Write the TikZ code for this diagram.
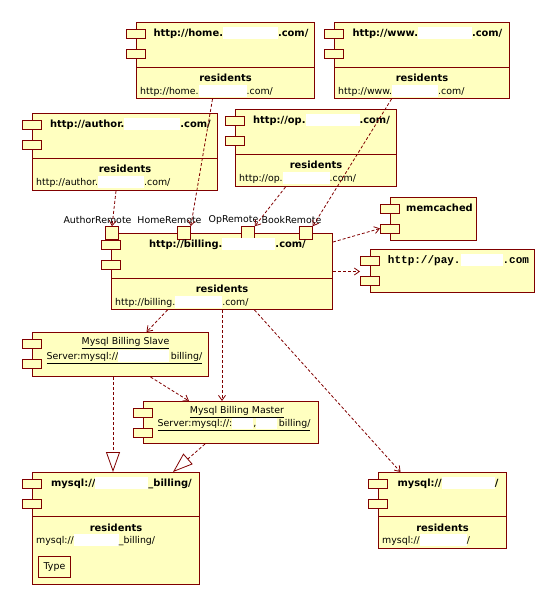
\documentclass[tikz,border=0pt]{standalone}
\usepackage{fontspec}
\setmainfont{DejaVu Sans}
\setmonofont{Liberation Mono}
\usepackage{xcolor}
\usetikzlibrary{arrows.meta, positioning, calc}

\definecolor{compfill}{RGB}{255,255,192}
\definecolor{compline}{RGB}{128,0,0}
\newcommand{\blank}[1]{{\color{white}\rule[-2.6pt]{#1}{11.4pt}}}

\begin{document}
\begin{tikzpicture}[x=1pt, y=-1pt,
  every node/.style={font=\fontsize{9.4}{11}\selectfont, inner sep=0pt, text=black},
  comp/.style={rectangle, draw=compline, fill=compfill, line width=1pt, anchor=north west},
  tab/.style={rectangle, draw=compline, fill=compfill, line width=1pt,
              minimum width=19pt, minimum height=9pt},
  port/.style={rectangle, draw=compline, fill=compfill, line width=1pt, minimum size=12.5pt},
  compname/.style={font=\fontsize{9.9}{12}\selectfont\bfseries},
  compres/.style={font=\fontsize{9.9}{12}\selectfont\bfseries},
  compurl/.style={anchor=west},
  portname/.style={},
  dep/.style={draw=compline, line width=0.8pt, dash pattern=on 3pt off 2pt,
              -{Straight Barb[length=5pt, width=7pt]}},
  real/.style={draw=compline, line width=0.8pt, dash pattern=on 3pt off 2pt,
               -{Triangle[open, length=20pt, width=14pt]}}
]
  \useasboundingbox (0,0) rectangle (558,608);

  % components
  \node[comp, minimum width=178pt, minimum height=76pt]  (home)      at (136,22)  {};
  \node[comp, minimum width=175pt, minimum height=76pt]  (www)       at (334,22)  {};
  \node[comp, minimum width=185pt, minimum height=77pt]  (author)    at (32,113)  {};
  \node[comp, minimum width=161pt, minimum height=77pt]  (op)        at (235,109) {};
  \node[comp, minimum width=221pt, minimum height=76pt]  (billing)   at (111,233) {};
  \node[comp, minimum width=86pt,  minimum height=43pt]  (memcached) at (390,197) {};
  \node[comp, minimum width=164pt, minimum height=43pt]  (pay)       at (370,249) {};
  \node[comp, minimum width=176pt, minimum height=44pt]  (slave)     at (32,332)  {};
  \node[comp, minimum width=175pt, minimum height=42pt]  (master)    at (143,401) {};
  \node[comp, minimum width=167pt, minimum height=112pt] (mysqlb)    at (32,472)  {};
  \node[comp, minimum width=128pt, minimum height=76pt]  (mysqlr)    at (378,472) {};

  \foreach \c in {home, www, author, op, billing, memcached, pay, slave, master, mysqlb, mysqlr}{
    \node[tab] (\c-t1) at ([yshift=-11.5pt]\c.north west) {};
    \node[tab] (\c-t2) at ([yshift=-31.5pt]\c.north west) {};
  }
  \foreach \c/\d in {home/45, www/45, author/45, op/45, billing/45, mysqlb/44, mysqlr/44}{
    \draw[compline, line width=1pt] ([yshift=-\d pt]\c.north west) -- ([yshift=-\d pt]\c.north east);
    \node[compres] (\c-res) at ([yshift=-55.5pt]\c.north) {residents};
  }

  % ports on billing
  \foreach \p/\dx/\t in {author/1/AuthorRemote, home/73/HomeRemote, op/137/OpRemote, book/195/BookRemote}{
    \node[port] (p-\p) at ([xshift=\dx pt]billing.north west) {};
    \node[portname] (p-\p-name) at ([xshift=-14.5pt, yshift=13pt]p-\p.center) {\t};
  }

  % texts
  \node[compname] (home-name) at ([xshift=5.5pt, yshift=-11pt]home.north) {http://home.\blank{55pt}.com/};
  \node[compurl] (home-url) at ([xshift=4pt, yshift=-69pt]home.north west) {http://home.\blank{48pt}.com/};
  \node[compname] (www-name) at ([xshift=5.5pt, yshift=-11pt]www.north) {http://www.\blank{54pt}.com/};
  \node[compurl] (www-url) at ([xshift=4pt, yshift=-69pt]www.north west) {http://www.\blank{46pt}.com/};
  \node[compname] (author-name) at ([xshift=5.5pt, yshift=-11pt]author.north) {http://author.\blank{56pt}.com/};
  \node[compurl] (author-url) at ([xshift=4pt, yshift=-69pt]author.north west) {http://author.\blank{46pt}.com/};
  \node[compname] (op-name) at ([xshift=5.5pt, yshift=-11pt]op.north) {http://op.\blank{54pt}.com/};
  \node[compurl] (op-url) at ([xshift=4pt, yshift=-69pt]op.north west) {http://op.\blank{47pt}.com/};
  \node[compname] (billing-name) at ([xshift=5.5pt, yshift=-11pt]billing.north) {http://billing.\blank{53pt}.com/};
  \node[compurl] (billing-url) at ([xshift=4pt, yshift=-69pt]billing.north west) {http://billing.\blank{47pt}.com/};
  \node[compname] (memcached-name) at ([xshift=6pt, yshift=-11pt]memcached.north) {memcached};
  \node[compname, font=\ttfamily\fontsize{11}{12}\selectfont\bfseries] (pay-name)
    at ([xshift=6pt, yshift=-11pt]pay.north) {http://pay.\blank{42pt}.com};
  \node (slave-name) at ([xshift=5pt, yshift=-11pt]slave.north) {\underline{Mysql Billing Slave}};
  \node[compurl] (slave-server) at ([xshift=14.5pt, yshift=-25pt]slave.north west)
    {\underline{Server:mysql://\blank{51pt}\,billing/}};
  \node (master-name) at ([xshift=6pt, yshift=-11pt]master.north) {\underline{Mysql Billing Master}};
  \node[compurl] (master-server) at ([xshift=14.5pt, yshift=-23.5pt]master.north west)
    {\underline{Server:mysql://:\blank{21pt},\blank{21pt}\,billing/}};
  \node[compname] (mysqlb-name) at ([xshift=5.5pt, yshift=-11pt]mysqlb.north) {mysql://\blank{53pt}\_billing/};
  \node[compurl] (mysqlb-url) at ([xshift=4pt, yshift=-68pt]mysqlb.north west) {mysql://\blank{45pt}\_billing/};
  \node[draw=compline, line width=1pt, minimum width=32pt, minimum height=21pt] (mysqlb-type)
    at ([xshift=22.5pt, yshift=17.8pt]mysqlb.south west) {Type};
  \node[compname] (mysqlr-name) at ([xshift=5.5pt, yshift=-11pt]mysqlr.north) {mysql://\blank{53pt}/};
  \node[compurl] (mysqlr-url) at ([xshift=4pt, yshift=-68pt]mysqlr.north west) {mysql://\blank{47pt}/};

  % dependencies
  \draw[dep] ([xshift=-9pt]author.south) -- (p-author.north);
  \draw[dep] ([xshift=-13pt]home.south) -- (p-home.north east);
  \draw[dep] ([xshift=-30.5pt]op.south) -- (p-op.north east);
  \draw[dep] ([xshift=-30.5pt]www.south) -- (p-book.north east);
  \draw[dep] ([yshift=-9pt]billing.north east) -- (memcached-t2.west);
  \draw[dep] (billing.east) -- (billing.east -| pay-t1.west);
  \draw[dep] ([xshift=-54.5pt]billing.south) -- ([xshift=26pt]slave.north);
  \draw[dep] (billing.south) -- (billing.south |- master.north);
  \draw[dep] ([xshift=32.5pt]billing.south) -- ([xshift=-42pt]mysqlr.north);
  \draw[dep] ([xshift=30pt]slave.south) -- ([xshift=-42pt]master.north);
  \draw[real] ([xshift=-7.5pt]slave.south) -- ([xshift=-3pt]mysqlb.north);
  \draw[real] ([xshift=-26pt]master.south) -- ([xshift=57pt]mysqlb.north);

\end{tikzpicture}
\end{document}
